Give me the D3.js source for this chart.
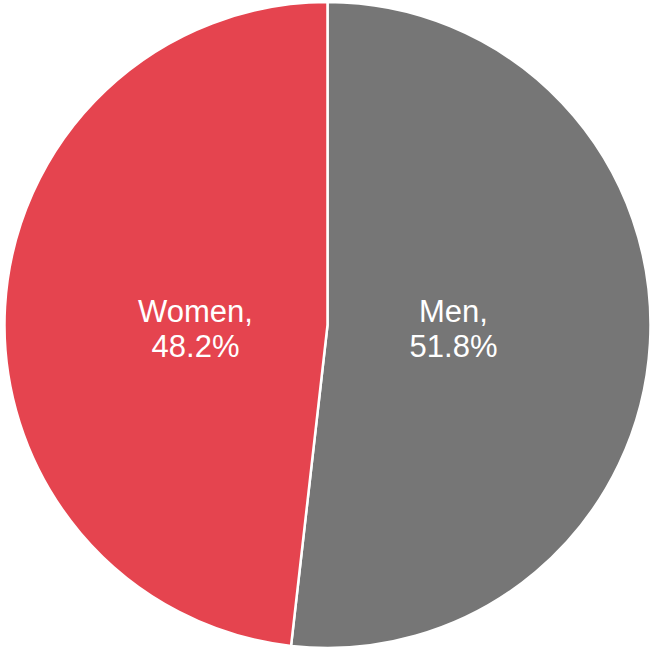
<!DOCTYPE html>
<html>
<head>
<meta charset="utf-8">
<script src="https://cdn.jsdelivr.net/npm/d3@7"></script>
<style>
  body { margin: 0; background: #fff; }
  text { font-family: "Liberation Sans", Arial, sans-serif; }
</style>
</head>
<body>
<div id="chart"></div>
<script>
// data
var categories = ["Men", "Women"];
var values = [51.8, 48.2];
var colors = ["#767676", "#E5444F"];

var width = 652,
    height = 648,
    cx = 327.5,
    cy = 325,
    radius = 323;

var data = categories.map(function(c, i) {
    return { name: c, value: values[i], color: colors[i] };
});

var svg = d3.select("#chart").append("svg")
    .attr("width", width)
    .attr("height", height);

var g = svg.append("g")
    .attr("transform", "translate(" + cx + "," + cy + ")");

var pie = d3.pie()
    .sort(null)
    .value(function(d) { return d.value; });

var arc = d3.arc()
    .innerRadius(0)
    .outerRadius(radius);

// labels sit at the horizontal distance of the centroid, block centred on the middle
var labelArc = d3.arc()
    .innerRadius(radius * 0.4)
    .outerRadius(radius * 0.4);

var slices = g.selectAll("g.slice")
    .data(pie(data))
    .enter().append("g")
    .attr("class", "slice");

slices.append("path")
    .attr("d", arc)
    .attr("fill", function(d) { return d.data.color; })
    .attr("stroke", "#fff")
    .attr("stroke-width", 2.5)
    .attr("stroke-linejoin", "round");

var labels = slices.append("text")
    .attr("transform", function(d) {
        var c = labelArc.centroid(d);
        return "translate(" + (c[0] - 3) + ",0)";
    })
    .attr("text-anchor", "middle")
    .attr("fill", "#fff")
    .style("font-size", "31px");

labels.append("tspan")
    .attr("x", 0)
    .attr("y", -3)
    .text(function(d) { return d.data.name + ","; });

labels.append("tspan")
    .attr("x", 0)
    .attr("y", 32)
    .text(function(d) { return d.data.value.toFixed(1) + "%"; });
</script>
</body>
</html>
